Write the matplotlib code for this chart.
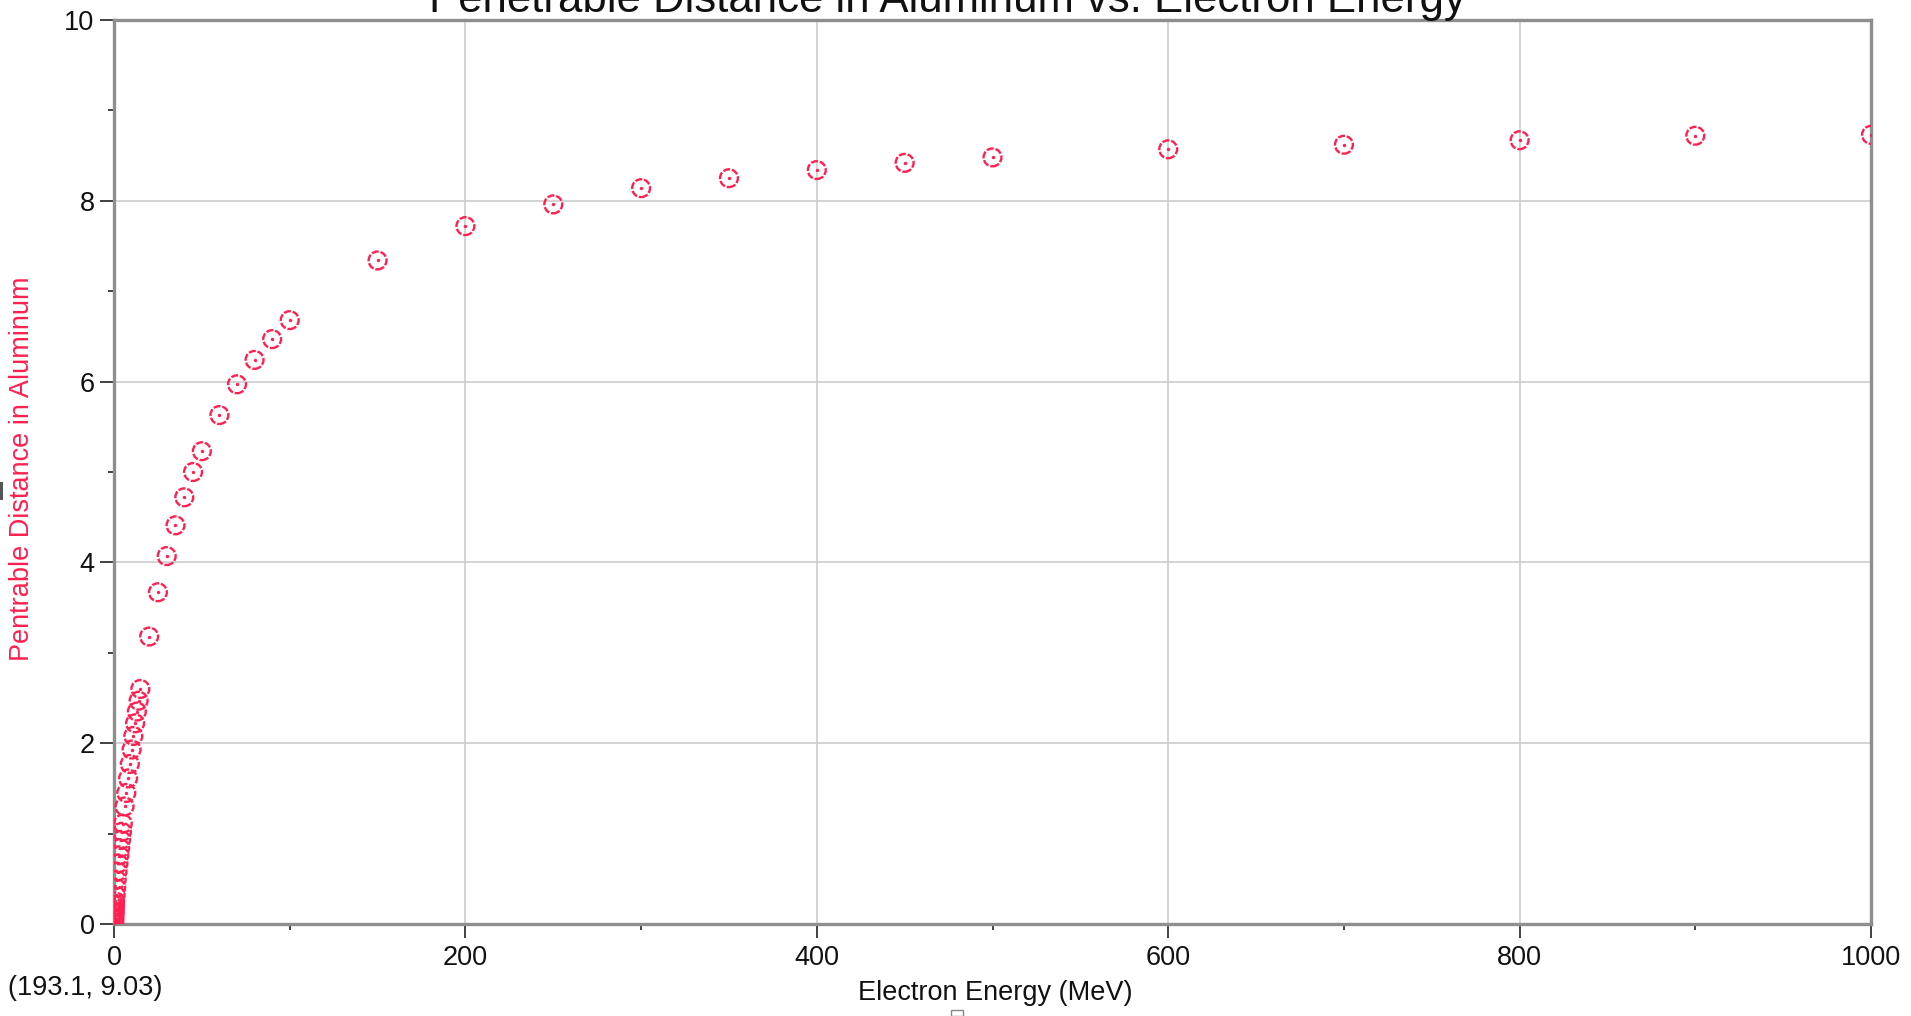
import matplotlib.pyplot as plt
from matplotlib.patches import Rectangle
from matplotlib.ticker import MultipleLocator

plt.rcParams['font.family'] = ['Liberation Sans', 'DejaVu Sans']

# electron energy (MeV) and penetrable distance in aluminum
energy = [0.01, 0.02, 0.03, 0.04, 0.05, 0.06, 0.08, 0.1, 0.15, 0.2, 0.25, 0.3, 0.4, 0.5,
          0.6, 0.9, 1.2, 1.5, 2.0, 2.5, 3.0, 3.5, 4.0, 4.5,
          5, 6, 7, 8, 9, 10, 11, 12, 13, 14, 15,
          20, 25, 30, 35, 40, 45, 50, 60, 70, 80, 90, 100,
          150, 200, 250, 300, 350, 400, 450, 500, 600, 700, 800, 900, 1000]
distance = [0.01, 0.015, 0.02, 0.03, 0.04, 0.05, 0.06, 0.07, 0.09, 0.11, 0.13, 0.15, 0.18, 0.21,
            0.25, 0.32, 0.40, 0.49, 0.58, 0.67, 0.76, 0.84, 0.93, 1.02,
            1.11, 1.30, 1.45, 1.61, 1.77, 1.93, 2.08, 2.22, 2.35, 2.47, 2.60,
            3.18, 3.67, 4.07, 4.41, 4.72, 5.00, 5.23, 5.63, 5.97, 6.24, 6.47, 6.68,
            7.34, 7.72, 7.96, 8.14, 8.25, 8.34, 8.42, 8.48, 8.57, 8.62, 8.67, 8.72, 8.73]

RED = '#ff2050'
SPINE = '#8e8e8e'
FS = 19.5

fig = plt.figure(figsize=(19.11, 10.16), dpi=100)
ax = fig.add_axes([114 / 1911, 1 - 924 / 1016, (1871 - 114) / 1911, (924 - 20) / 1016])

ax.scatter(energy, distance, s=165, facecolors='none', edgecolors=RED,
           linewidths=1.7, linestyles=(0, (3.0, 0.8)), zorder=3)
ax.scatter(energy, distance, s=6, color=RED, linewidths=0, zorder=3)

ax.set_xlim(0, 1000)
ax.set_ylim(0, 10)
ax.xaxis.set_major_locator(MultipleLocator(200))
ax.xaxis.set_minor_locator(MultipleLocator(100))
ax.yaxis.set_major_locator(MultipleLocator(2))
ax.yaxis.set_minor_locator(MultipleLocator(1))

ax.grid(True, which='major', color='#c8c8c8', linewidth=1.1)
ax.set_axisbelow(True)
for sp in ax.spines.values():
    sp.set_color(SPINE)
    sp.set_linewidth(2.4)

ax.tick_params(which='major', direction='out', length=10, width=1.3, color='#333333',
               labelsize=FS, labelcolor='#111111', pad=4)
ax.tick_params(which='minor', direction='out', length=4, width=1.3, color='#333333')
ax.tick_params(axis='x', which='major', pad=5)

# axis titles and readout placed in figure coordinates
fig.text(947 / 1911, 1 - 12 / 1016, 'Penetrable Distance in Aluminum vs. Electron Energy',
         ha='center', va='baseline', fontsize=31.5, color='#111111')
fig.text(995 / 1911, 1 - 993 / 1016, 'Electron Energy (MeV)', ha='center', va='center',
         fontsize=FS, color='#111111')
fig.text(22 / 1911, 1 - 469 / 1016, 'Pentrable Distance in Aluminum', ha='center', va='center',
         rotation=90, fontsize=FS, color=RED)
fig.text(8 / 1911, 1 - 988 / 1016, '(193.1, 9.03)', ha='left', va='center',
         fontsize=FS, color='#111111')

fig.patches.append(Rectangle((951 / 1911, 0), 12 / 1911, 6 / 1016,
                             transform=fig.transFigure, facecolor='none',
                             edgecolor='#888888', linewidth=1))
fig.patches.append(Rectangle((0, 1 - 500 / 1016), 3 / 1911, 18 / 1016,
                             transform=fig.transFigure, facecolor='#555555',
                             edgecolor='none'))

fig.savefig('out.png', dpi=100)
